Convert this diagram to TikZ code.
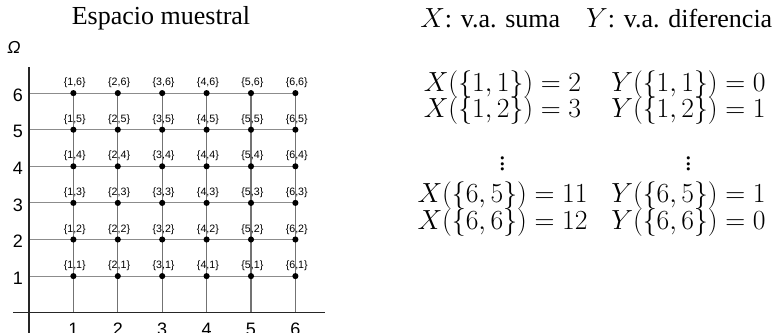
\documentclass[tikz,border=0pt]{standalone}
\usepackage{fontspec}
\setmainfont{Liberation Serif}
\newfontfamily\gridfont{Liberation Sans}
\begin{document}
\begin{tikzpicture}[x=0.75pt,y=-0.75pt,
  gridline/.style={draw=black!45, line width=0.8pt},
  vgridline/.style={draw=black!55, line width=1pt},
  axisline/.style={draw=black!85, line width=1.1pt},
  dot/.style={circle, fill=black, inner sep=0pt, minimum size=4.6pt},
  plabel/.style={font=\gridfont\fontsize{8}{8}\selectfont, inner sep=0pt},
  ticklabel/.style={font=\gridfont\fontsize{13.5}{14}\selectfont, inner sep=0pt},
  eqn/.style={font=\fontsize{19.7}{22}\selectfont, inner sep=0pt, anchor=base},
  titletext/.style={font=\fontsize{19.5}{22}\selectfont, inner sep=0pt, anchor=base}]
\useasboundingbox (0,0) rectangle (784,332);
% axes
\coordinate (yaxtop) at (29,67);
\coordinate (yaxbot) at (29,334);
\coordinate (xaxl) at (13,312.7);
\coordinate (xaxr) at (325,312.7);
\foreach \k in {1,...,6}{
  \coordinate (ya-\k) at (29,{312.7-36.6*\k});
  \coordinate (xa-\k) at ({29+44.4*\k},312.7);
  \foreach \j in {1,...,6}{
    \coordinate (p-\k-\j) at ({29+44.4*\k},{312.7-36.6*\j});
  }
}
\foreach \k in {1,...,6}{
  \draw[gridline] (ya-\k) -- (p-6-\k);
  \draw[vgridline] (p-\k-6) -- (xa-\k);
}
\draw[axisline] (yaxtop) -- (yaxbot);
\draw[axisline] (xaxl) -- (xaxr);
\foreach \k in {1,...,6}{
  \foreach \j in {1,...,6}{
    \node[dot] (d-\k-\j) at (p-\k-\j) {};
    \node[plabel] (l-\k-\j) at ([xshift=1pt,yshift=7.6pt]p-\k-\j) {\{\k,\j\}};
  }
  \node[ticklabel] (yt-\k) at ([xshift=-8.3pt,yshift=-1.5pt]ya-\k) {\k};
  \node[ticklabel, anchor=north] (xt-\k) at ([yshift=-7.7pt]xa-\k) {\k};
}
\node[font=\gridfont\itshape\fontsize{13}{14}\selectfont, inner sep=0pt] (omega) at (14,47) {Ω};
% titles
\node[titletext] (title) at (161,24) {Espacio muestral};
\node[titletext, anchor=base west] (hdr) at (420,27) {$X$: v.a. suma\quad $Y$: v.a. diferencia};
% equations
\node[eqn] (x1) at (502.5,91.5) {$X(\{1,1\})=2$};
\node[eqn] (y1) at (688.5,91.5) {$Y(\{1,1\})=0$};
\node[eqn] (x2) at (502.5,117.5) {$X(\{1,2\})=3$};
\node[eqn] (y2) at (688.5,117.5) {$Y(\{1,2\})=1$};
\node[font=\fontsize{19.7}{22}\selectfont, inner sep=0pt] (xd) at (502.5,160) {$\vdots$};
\node[font=\fontsize{19.7}{22}\selectfont, inner sep=0pt] (yd) at (688.5,160) {$\vdots$};
\node[eqn] (x3) at (502.5,202.5) {$X(\{6,5\})=11$};
\node[eqn] (y3) at (688.5,202.5) {$Y(\{6,5\})=1$};
\node[eqn] (x4) at (502.5,229.5) {$X(\{6,6\})=12$};
\node[eqn] (y4) at (688.5,229.5) {$Y(\{6,6\})=0$};
\end{tikzpicture}
\end{document}
